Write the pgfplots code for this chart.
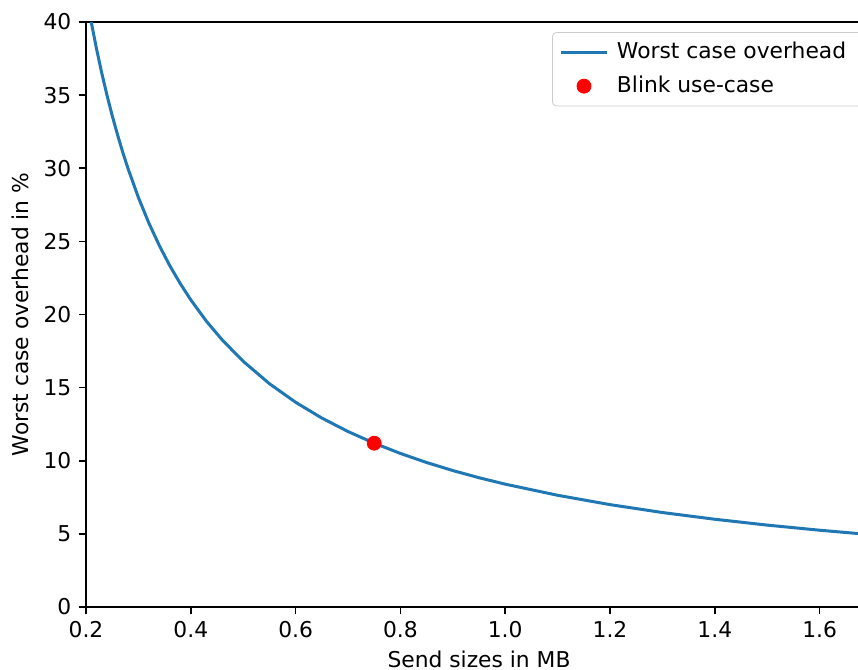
\documentclass[border=0pt]{standalone}
\usepackage{pgfplots}
\pgfplotsset{compat=1.18}
\usepackage{fontspec}
\setmainfont{DejaVu Sans}
\usetikzlibrary{calc}
\definecolor{mplblue}{HTML}{1F77B4}

\begin{document}
\fontsize{10.9}{13}\selectfont
\begin{tikzpicture}
\begin{axis}[
  scale only axis, width=393pt, height=292.5pt,
  xmin=0.2, xmax=1.7, ymin=0, ymax=40,
  axis y line*=left,
  tick pos=left, tick align=outside,
  major tick length=3.5pt,
  axis line style={line width=0.8pt},
  every tick/.style={black, line width=0.8pt},
  xtick={0.2,0.4,...,1.6}, ytick={0,5,...,40},
  xticklabel style={/pgf/number format/.cd,fixed,fixed zerofill,precision=1},
  /pgf/number format/assume math mode=true,
  xlabel={Send sizes in MB}, ylabel={Worst case overhead in \%},
  xlabel style={yshift=1pt}, ylabel style={yshift=0pt},
  legend style={at={(rel axis cs:1,1)}, anchor=north east, xshift=-5pt, yshift=-5pt,
    draw=black!20, rounded corners=2pt, fill=white, inner xsep=3.5pt, inner ysep=3pt,
    row sep=3pt, nodes={inner xsep=4.25pt}, cells={anchor=west}},
  legend cell align=left,
  legend image code/.code={\draw[mark repeat=2,mark phase=2,#1] plot coordinates {(0pt,0pt) (11.5pt,0pt) (23pt,0pt)};},
]
\addplot[mplblue, line width=1.5pt] coordinates {
  (0.20,42.00) (0.21,40.00) (0.22,38.18) (0.23,36.52) (0.24,35.00) (0.25,33.60)
  (0.26,32.31) (0.27,31.11) (0.28,30.00) (0.30,28.00) (0.32,26.25) (0.34,24.71)
  (0.36,23.33) (0.38,22.11) (0.40,21.00) (0.43,19.53) (0.46,18.26) (0.50,16.80)
  (0.55,15.27) (0.60,14.00) (0.65,12.92) (0.70,12.00) (0.75,11.20) (0.80,10.50)
  (0.85,9.88) (0.90,9.33) (0.95,8.84) (1.00,8.40) (1.10,7.64) (1.20,7.00)
  (1.30,6.46) (1.40,6.00) (1.50,5.60) (1.60,5.25) (1.70,4.94)};
\addlegendentry{Worst case overhead}
\addplot[only marks, mark=*, mark size=3.5pt, red, mark options={draw=red, fill=red}] coordinates {(0.75,11.2)};
\addlegendentry{Blink use-case}
\coordinate (O) at (rel axis cs:0,0);
\coordinate (T) at (rel axis cs:1,1);
\end{axis}
\pgfresetboundingbox
\path[use as bounding box] ($(O)+(-43pt,-31.5pt)$) rectangle ($(T)+(-7pt,11pt)$);
\end{tikzpicture}
\end{document}
